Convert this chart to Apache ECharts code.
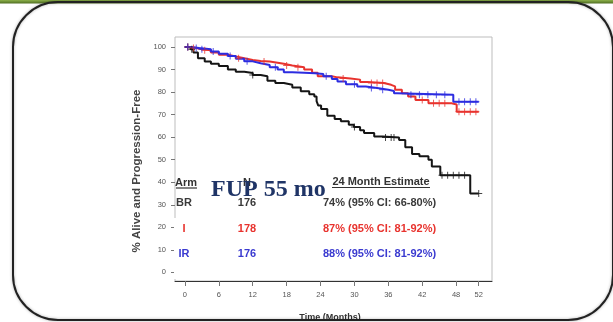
<!DOCTYPE html>
<html>
<head>
<meta charset="utf-8">
<script src="https://cdn.jsdelivr.net/npm/echarts@6/dist/echarts.min.js"></script>
<style>
  html, body { margin: 0; padding: 0; background: #ffffff; }
  #chart { width: 613px; height: 322px; }
</style>
</head>
<body>
<div id="chart"></div>
<script>
// Axis ticks
const xTicks = [0, 6, 12, 18, 24, 30, 36, 42, 48, 52];
const yTicks = [0, 10, 20, 30, 40, 50, 60, 70, 80, 90, 100];

// Kaplan-Meier step points [month, % alive and progression-free]
const curveBR = [[0,100],[1,99],[1.5,97.5],[2.3,95],[3.5,93.5],[4.6,92.5],[6,91.5],[7.6,90],[9,89],[10.5,88.4],
  [12,87.5],[13.4,87],[14.6,85],[16,84],[17.5,83.2],[19,82],[20.5,80.3],[22,79],[22.9,78],[23.3,76],[23.6,74],
  [24.1,72.5],[25.2,69.5],[26.5,68],[27.6,67],[29,65.5],[29.9,64.5],[31,63],[31.7,61.8],[33.5,60.3],[35,59.8],
  [37.9,58.7],[39,55.5],[40.2,52.5],[41.5,51.5],[43.1,50],[43.7,47],[45.2,43.1],[50.5,35],[52,35]];
const curveI = [[0,100],[1,99.5],[2,99],[3,98.5],[4.6,97.5],[6,96.5],[7.6,95.8],[9,95],[10.5,94.2],[12,93.8],
  [13.4,93.5],[15,93],[16.4,92.5],[17.5,91.8],[19,91],[21.1,90],[22.5,88.5],[23.5,87],[26,86.5],[27,86],
  [29.3,85.5],[31,84.5],[32.3,84],[35.2,83.2],[36.5,82.5],[37.2,81],[38.4,79.5],[39.5,78],[40.8,76.5],
  [43.1,75],[47.2,74.5],[48.1,71.3],[52,71.3]];
const curveIR = [[0,100],[1,99.5],[2.5,99],[4.6,98],[6,97],[7.6,96],[9,94.8],[10.5,93.6],[12,92.8],[13.4,92],
  [15,91],[16.4,90],[17.5,88.8],[19,88.6],[21.1,88.3],[23,88],[24.5,87],[26,85.8],[27,84.7],[28.5,83.5],
  [30.5,82.5],[32,81.8],[34,81],[36,80.5],[37,79.5],[37.5,78.8],[47.5,75.7],[52,75.7]];

// Censoring times (months)
const censorBR = [0.5, 1.2, 12, 30, 35.5, 36.5, 37, 45.5, 46.5, 47.5, 48.5, 49.5, 52];
const censorI = [0.5, 1.5, 3.5, 9.5, 14, 18, 20, 28, 33, 34, 35, 42, 44, 45, 46, 48.5, 49.5, 50.5, 51.5];
const censorIR = [0.5, 2, 3, 5, 8, 11, 16, 25, 30, 33, 35, 40, 41.5, 43, 44.5, 46, 48.5, 49.5, 50.5, 51.5];

// Risk table
const arms = ['BR', 'I', 'IR'];
const armN = ['176', '178', '176'];
const estimates = ['74% (95% CI: 66-80%)', '87% (95% CI: 81-92%)', '88% (95% CI: 81-92%)'];

const colors = { BR: '#151515', I: '#e8332e', IR: '#2c2ce0' };
const tableColors = ['#3a3a3a', '#e8332e', '#3a3ad0'];

function valueAt(curve, t) {
  let v = curve[0][1];
  for (const p of curve) { if (p[0] <= t) v = p[1]; else break; }
  return v;
}
function censorPoints(curve, times) {
  return times.map(t => [t, valueAt(curve, t)]);
}

const plus = 'path://M4.3,0H5.7V4.3H10V5.7H5.7V10H4.3V5.7H0V4.3H4.3Z';

function kmSeries(name, curve, times, color, width) {
  return [
    { name, type: 'line', step: 'end', data: curve, showSymbol: false, silent: true,
      lineStyle: { color, width }, z: 3 },
    { name: name + ' censored', type: 'scatter', data: censorPoints(curve, times), symbol: plus,
      symbolSize: 7, itemStyle: { color }, silent: true, z: 4 }
  ];
}

const chart = echarts.init(document.getElementById('chart'));

const tableFont = 'bold 11px Arial, "Liberation Sans", sans-serif';
const tableText = [];
const rowY = [203, 229, 254];
arms.forEach((a, i) => {
  const fill = tableColors[i];
  tableText.push({ type: 'text', x: 184, y: rowY[i], style: { text: a, fill, font: tableFont, align: 'center', verticalAlign: 'middle' } });
  tableText.push({ type: 'text', x: 247, y: rowY[i], style: { text: armN[i], fill, font: tableFont, align: 'center', verticalAlign: 'middle' } });
  tableText.push({ type: 'text', x: 323, y: rowY[i], style: { text: estimates[i], fill, font: tableFont, align: 'left', verticalAlign: 'middle' } });
});

chart.setOption({
  animation: false,
  backgroundColor: '#ffffff',
  grid: { left: 175, right: 121, top: 37, bottom: 41, show: true, borderColor: '#bdbdbd', borderWidth: 1 },
  xAxis: {
    type: 'value', min: -1.76, max: 54.35,
    axisLine: { show: true, onZero: false, lineStyle: { color: '#333', width: 1 } },
    axisTick: { show: true, customValues: xTicks, length: 5, lineStyle: { color: '#777' } },
    axisLabel: { customValues: xTicks, fontSize: 7.5, color: '#555', margin: 10, fontFamily: 'Arial' },
    splitLine: { show: false }
  },
  yAxis: {
    type: 'value', min: -3.8, max: 104.4,
    axisLine: { show: false, onZero: false },
    axisTick: { show: true, customValues: yTicks, length: 4, lineStyle: { color: '#777' } },
    axisLabel: { customValues: yTicks, fontSize: 7.5, color: '#555', margin: 9, fontFamily: 'Arial' },
    splitLine: { show: false }
  },
  series: [
    ...kmSeries('BR', curveBR, censorBR, colors.BR, 2),
    ...kmSeries('I', curveI, censorI, colors.I, 2),
    ...kmSeries('IR', curveIR, censorIR, colors.IR, 2)
  ],
  graphic: [
    // hides the lower part of the plot frame behind the table
    { type: 'rect', shape: { x: 174, y: 218, width: 8, height: 61 }, style: { fill: '#ffffff' }, z: 5 },
    // y axis title
    { type: 'text', x: 137, y: 171, rotation: Math.PI / 2,
      style: { text: '% Alive and Progression-Free', fill: '#444', font: 'bold 11.5px Arial', align: 'center', verticalAlign: 'middle' }, z: 5 },
    // x axis title
    { type: 'text', x: 330, y: 318,
      style: { text: 'Time (Months)', fill: '#333', font: 'bold 9px Arial', align: 'center', verticalAlign: 'middle' }, z: 5 },
    // table header
    { type: 'text', x: 186, y: 183, style: { text: 'Arm', fill: '#333', font: tableFont, align: 'center', verticalAlign: 'middle' }, z: 6 },
    { type: 'line', shape: { x1: 176, y1: 188, x2: 197, y2: 188 }, style: { stroke: '#333', lineWidth: 1.2 }, z: 6 },
    { type: 'text', x: 247, y: 183, style: { text: 'N', fill: '#333', font: tableFont, align: 'center', verticalAlign: 'middle' }, z: 6 },
    { type: 'text', x: 381, y: 182, style: { text: '24 Month Estimate', fill: '#333', font: tableFont, align: 'center', verticalAlign: 'middle' }, z: 6 },
    { type: 'line', shape: { x1: 332, y1: 187.5, x2: 430, y2: 187.5 }, style: { stroke: '#333', lineWidth: 1 }, z: 6 },
    ...tableText.map(t => Object.assign(t, { z: 6 })),
    // follow-up note
    { type: 'text', x: 211, y: 190,
      style: { text: 'FUP 55 mo', fill: '#1f3466', font: 'bold 24px "Liberation Serif", "Times New Roman", serif', align: 'left', verticalAlign: 'middle' }, z: 8 },
    // white margin below the frame
    { type: 'rect', shape: { x: 0, y: 321, width: 613, height: 2 }, style: { fill: '#ffffff' }, z: 9 },
    // green header band
    { type: 'rect', shape: { x: 0, y: 0, width: 613, height: 3.5 },
      style: { fill: new echarts.graphic.LinearGradient(0, 0, 0, 1, [{ offset: 0, color: '#8cb04a' }, { offset: 1, color: '#4f6e22' }]) }, z: 9 },
    // rounded panel frame
    { type: 'rect', shape: { x: 13, y: 2, width: 600, height: 318, r: 45 },
      style: { fill: 'none', stroke: '#222', lineWidth: 2, shadowBlur: 3, shadowColor: 'rgba(0,0,0,0.3)' }, z: 10 }
  ]
});
</script>
</body>
</html>
